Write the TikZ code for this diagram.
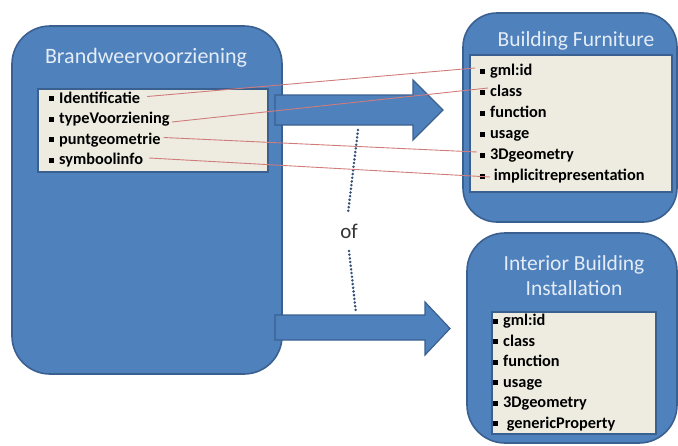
\documentclass[tikz,border=0pt]{standalone}
\usepackage{fontspec}
\setmainfont{Carlito}
\usetikzlibrary{calc}
\definecolor{boxblue}{HTML}{4F81BD}
\definecolor{edgeblue}{HTML}{3A6090}
\definecolor{paper}{HTML}{EEECE1}
\definecolor{titlecol}{HTML}{E4ECF6}
\definecolor{linkred}{HTML}{D07C7A}
\definecolor{dotcol}{HTML}{35507A}
\newcommand\sqbullet{\rule[1.6pt]{5pt}{5pt}\hspace{5pt}}
\tikzset{
  classbox/.style={draw=edgeblue, line width=1.6pt, fill=boxblue, rounded corners=38pt},
  attrbox/.style={draw=edgeblue, line width=1.1pt, fill=paper},
  blockarrow/.style={draw=edgeblue, line width=1.2pt, fill=boxblue, line join=miter},
  titletext/.style={text=titlecol, font=\fontsize{21.5}{25}\selectfont, align=center},
  attr/.style={anchor=west, inner sep=0pt, text height=11pt, text depth=4pt,
    font=\fontsize{16.3}{19}\selectfont\bfseries},
  link/.style={draw=linkred, line width=0.9pt},
  orline/.style={draw=dotcol, line width=2.8pt, line cap=round, dash pattern=on 0pt off 3.7pt}
}
\begin{document}
\begin{tikzpicture}[x=1pt, y=-1pt]
\useasboundingbox (0,0) rectangle (678,445);

% class boxes
\node[classbox, minimum width=270pt, minimum height=348pt] (src) at (147,200) {};
\node[classbox, rounded corners=34pt, minimum width=214pt, minimum height=209pt] (bf) at (570,117.5) {};
\node[classbox, minimum width=210pt, minimum height=210pt] (ibi) at (572,338) {};

% block arrows
\draw[blockarrow] (275,95) -- (413,95) -- (413,80) -- (443,110) -- (413,140) -- (413,125) -- (275,125) -- cycle;
\draw[blockarrow] (275,315) -- (425,315) -- (425,302) -- (450,328.5) -- (425,355) -- (425,340) -- (275,340) -- cycle;

% attribute panels
\node[attrbox, minimum width=230pt, minimum height=83pt] (srcattr) at (153,130.5) {};
\node[attrbox, minimum width=202pt, minimum height=137pt] (bfattr) at (571,123.5) {};
\node[attrbox, minimum width=164pt, minimum height=122pt] (ibiattr) at (574,373) {};

% titles
\node[titletext, font=\fontsize{22}{26}\selectfont] (srct) at (146,58) {Brandweervoorziening};
\node[titletext] (bft) at (576,41) {Building Furniture};
\node[titletext, align=center, font=\fontsize{21.5}{25}\selectfont] (ibit) at (574,275.5) {Interior Building\\Installation};

% attributes of Brandweervoorziening
\node[attr] (s1) at (49,99.5) {\sqbullet Identificatie};
\node[attr] (s2) at (49,120) {\sqbullet typeVoorziening};
\node[attr] (s3) at (49,140.5) {\sqbullet puntgeometrie};
\node[attr] (s4) at (49,161) {\sqbullet symboolinfo};

% attributes of Building Furniture
\node[attr] (b1) at (480,72) {\sqbullet gml:id};
\node[attr] (b2) at (480,93) {\sqbullet class};
\node[attr] (b3) at (480,114) {\sqbullet function};
\node[attr] (b4) at (480,135) {\sqbullet usage};
\node[attr] (b5) at (480,156) {\sqbullet 3Dgeometry};
\node[attr] (b6) at (480,177) {\sqbullet\ implicitrepresentation};

% attributes of Interior Building Installation
\node[attr] (i1) at (493,322) {\sqbullet gml:id};
\node[attr] (i2) at (493,342.5) {\sqbullet class};
\node[attr] (i3) at (493,363) {\sqbullet function};
\node[attr] (i4) at (493,383.5) {\sqbullet usage};
\node[attr] (i5) at (493,404) {\sqbullet 3Dgeometry};
\node[attr] (i6) at (493,424.5) {\sqbullet\ genericProperty};

% "of" between the two targets
\coordinate (d1) at (358,130);
\coordinate (d2) at (348,213);
\node[font=\fontsize{21}{25}\selectfont, text=black!80] (or) at (349,231) {of};
\coordinate (d3) at (349,251);
\coordinate (d4) at (356,313);
\draw[orline] (d1) -- (d2);
\draw[orline] (d3) -- (d4);

% attribute correspondences
\draw[link] ($(s1.east)+(7,-3)$) -- ($(b1.west)+(-5,-4)$);
\draw[link] ($(s2.east)+(2,2)$) -- ($(b2.west)+(8,-5)$);
\draw[link] ($(s3.east)+(3,-3)$) -- ($(b5.west)+(-3,-4)$);
\draw[link] ($(s4.east)+(6,-3)$) -- ($(b6.west)+(10,0)$);
\end{tikzpicture}
\end{document}
